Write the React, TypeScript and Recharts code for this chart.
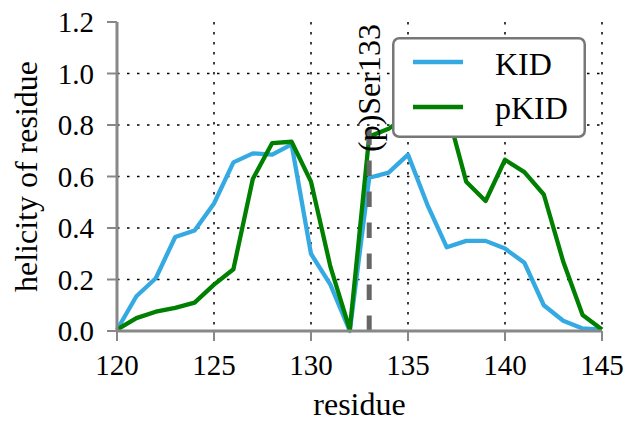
import React from "react";
import {
  LineChart,
  Line,
  XAxis,
  YAxis,
  CartesianGrid,
  ReferenceLine,
  Legend,
} from "recharts";

const residues = [
  120, 121, 122, 123, 124, 125, 126, 127, 128, 129, 130, 131, 132, 133, 134,
  135, 136, 137, 138, 139, 140, 141, 142, 143, 144, 145,
];
const kidHelicity = [
  0.005, 0.135, 0.205, 0.365, 0.39, 0.495, 0.655, 0.69, 0.685, 0.725, 0.3,
  0.18, 0.0, 0.595, 0.615, 0.685, 0.49, 0.325, 0.35, 0.35, 0.32, 0.265, 0.1,
  0.04, 0.01, 0.005,
];
const pkidHelicity = [
  0.005, 0.05, 0.075, 0.09, 0.11, 0.18, 0.24, 0.59, 0.73, 0.735, 0.58, 0.25,
  0.005, 0.755, 0.785, 0.84, 0.88, 0.86, 0.58, 0.505, 0.665, 0.617, 0.53,
  0.27, 0.062, 0.006,
];
const xTicks = [120, 125, 130, 135, 140, 145];
const yTicks = [0, 0.2, 0.4, 0.6, 0.8, 1.0, 1.2];
const xGrid = [125, 130, 135, 140, 145];
const yGrid = [0.2, 0.4, 0.6, 0.8, 1.0];
const siteResidue = 133;
const siteTop = 0.8;
const siteLabel = "(p)Ser133";

const data = residues.map((r, i) => ({
  residue: r,
  KID: kidHelicity[i],
  pKID: pkidHelicity[i],
}));

const FONT = "Liberation Serif, Times New Roman, serif";
const SPINE = "#888888";
const TICK_FS = 29;
const TEXT_FS = 32;

const SiteLabel = (props: any) => {
  const vb = props.viewBox || {};
  const x = (vb.x ?? 0) + 11;
  const y = (vb.y ?? 0) + 27;
  return (
    <text
      x={x}
      y={y}
      transform={`rotate(-90, ${x}, ${y})`}
      textAnchor="start"
      fontSize={TEXT_FS}
      fontFamily={FONT}
      fill="#000"
    >
      {siteLabel}
    </text>
  );
};

const YLabel = (props: any) => {
  const vb = props.viewBox || {};
  const cx = 37;
  const cy = (vb.y ?? 0) + (vb.height ?? 0) / 2;
  return (
    <text
      x={cx}
      y={cy}
      transform={`rotate(-90, ${cx}, ${cy})`}
      textAnchor="middle"
      fontSize={TEXT_FS}
      fontFamily={FONT}
      fill="#000"
    >
      helicity of residue
    </text>
  );
};

const LegendBox = (props: any) => {
  const payload = (props.payload || []) as any[];
  return (
    <svg width={194} height={101} style={{ display: "block" }}>
      <rect
        x={1.25}
        y={1.25}
        width={191.5}
        height={98.5}
        rx={6}
        ry={6}
        fill="#ffffff"
        stroke="#777777"
        strokeWidth={2.5}
      />
      {payload.map((p: any, i: number) => (
        <g key={p.value}>
          <line
            x1={21}
            x2={71}
            y1={25 + i * 45}
            y2={25 + i * 45}
            stroke={p.color}
            strokeWidth={4.5}
          />
          <text
            x={103}
            y={38 + i * 44}
            fontSize={TEXT_FS}
            fontFamily={FONT}
            fill="#000"
          >
            {p.value}
          </text>
        </g>
      ))}
    </svg>
  );
};

export default function App() {
  return (
    <div style={{ position: "absolute", left: 0, top: 0, width: 625, height: 421, background: "#fff" }}>
      <LineChart
        width={625}
        height={421}
        data={data}
        margin={{ top: 22, right: 23, bottom: 0, left: 0 }}
        style={{ fontFamily: FONT }}
      >
        <CartesianGrid
          stroke="#000"
          strokeWidth={1.5}
          strokeDasharray="2.5 7.5"
          horizontalValues={yGrid}
          verticalValues={xGrid}
        />
        <XAxis
          dataKey="residue"
          type="number"
          domain={[120, 145]}
          ticks={xTicks}
          height={90}
          tickSize={10}
          tickMargin={13}
          axisLine={{ stroke: SPINE, strokeWidth: 3 }}
          tickLine={{ stroke: SPINE, strokeWidth: 2 }}
          tick={{ fontSize: TICK_FS, fill: "#000", fontFamily: FONT }}
          label={{
            value: "residue",
            position: "insideBottom",
            offset: 6,
            fontSize: TEXT_FS,
            fill: "#000",
            fontFamily: FONT,
          }}
        />
        <YAxis
          type="number"
          domain={[0, 1.2]}
          ticks={yTicks}
          width={117}
          tickSize={10}
          tickMargin={13}
          tickFormatter={(v: number) => v.toFixed(1)}
          axisLine={{ stroke: SPINE, strokeWidth: 3 }}
          tickLine={{ stroke: SPINE, strokeWidth: 2 }}
          tick={{ fontSize: TICK_FS, fill: "#000", fontFamily: FONT }}
          label={<YLabel />}
        />
        <Line
          type="linear"
          dataKey="KID"
          name="KID"
          stroke="#35aae2"
          strokeWidth={4.3}
          strokeLinejoin="round"
          dot={false}
          activeDot={false}
          isAnimationActive={false}
        />
        <Line
          type="linear"
          dataKey="pKID"
          name="pKID"
          stroke="#008000"
          strokeWidth={4.3}
          strokeLinejoin="round"
          dot={false}
          activeDot={false}
          isAnimationActive={false}
        />
        <ReferenceLine
          segment={[
            { x: siteResidue, y: 0 },
            { x: siteResidue, y: siteTop },
          ]}
          stroke="#666666"
          strokeWidth={5}
          strokeDasharray="15.5 15.5"
          label={<SiteLabel />}
        />
        <Legend
          layout="horizontal"
          verticalAlign="middle"
          align="center"
          content={<LegendBox />}
          wrapperStyle={{ position: "absolute", left: 392, top: 37, width: 194, height: 101, margin: 0 }}
        />
      </LineChart>
    </div>
  );
}
